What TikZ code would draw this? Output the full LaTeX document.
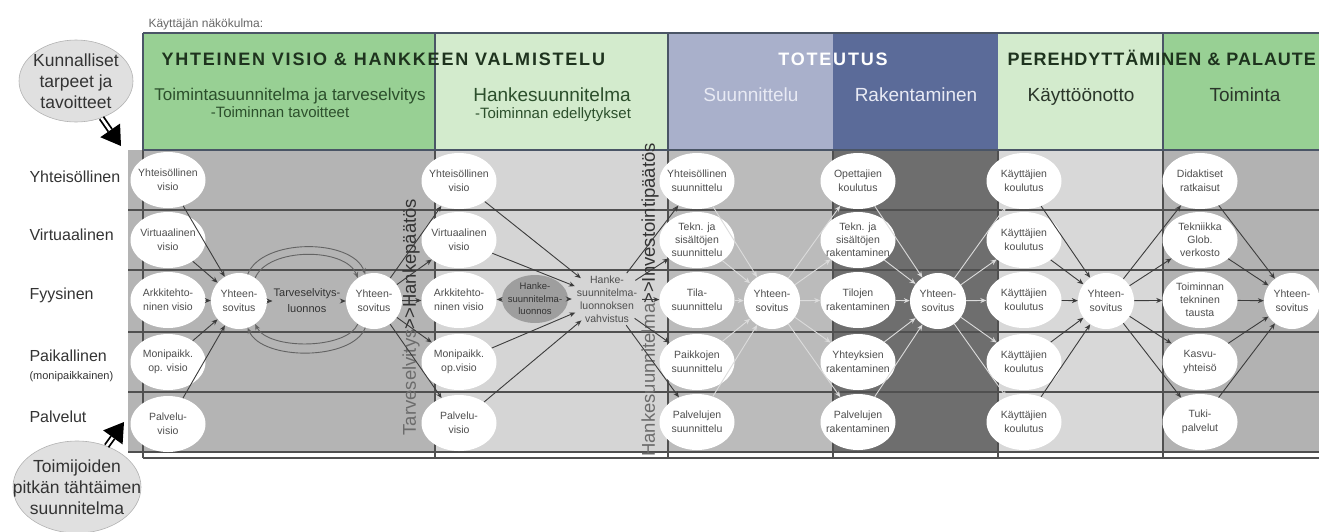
\documentclass[tikz,border=0pt]{standalone}
\usepackage{fontspec}
\setmainfont{Liberation Sans}
\newfontfamily\hdfont{Liberation Sans}[LetterSpace=10]
\newfontfamily\hdfontb{Liberation Sans}[LetterSpace=5.5]
\usetikzlibrary{shapes.geometric,arrows.meta,calc}
\definecolor{hgreen}{HTML}{98D094}
\definecolor{hlgreen}{HTML}{D3EBCD}
\definecolor{hlblue}{HTML}{A9B0CB}
\definecolor{hdblue}{HTML}{5B6B99}
\definecolor{bgA}{HTML}{B4B4B4}
\definecolor{bgB}{HTML}{D5D5D5}
\definecolor{bgC}{HTML}{BBBBBB}
\definecolor{bgD}{HTML}{6E6E6E}
\definecolor{bgE}{HTML}{D8D8D8}
\definecolor{bgF}{HTML}{B2B2B2}
\definecolor{rulec}{HTML}{505050}
\definecolor{hrulec}{HTML}{4A5566}
\definecolor{ntxt}{HTML}{4E4E4E}
\definecolor{arrc}{HTML}{3C3C3C}
\definecolor{lightarr}{HTML}{DCDCDC}
\definecolor{labc}{HTML}{333333}
\definecolor{htA}{HTML}{1E331E}
\definecolor{hsA}{HTML}{2C4F2C}
\definecolor{hsW}{HTML}{E8EAF4}
\definecolor{hsK}{HTML}{2A362A}
\definecolor{callc}{HTML}{E0E0E0}
\definecolor{hlc}{HTML}{9E9E9E}
\newcommand\mybub[5]{\node[#1] (#2) at (#3) {}; \node[#4] (#2t) at (#2.center) {#5};}
\begin{document}
\begin{tikzpicture}[x=1pt,y=-1pt,
  nd/.style={ellipse,fill=white,draw=none,minimum width=75pt,minimum height=56pt,inner sep=0pt},
  yh/.style={nd,minimum width=56pt},
  ndt/.style={align=center,text=ntxt,font=\fontsize{10.5}{14}\selectfont,inner sep=0pt},
  ndtt/.style={ndt,font=\fontsize{10.5}{13}\selectfont},
  arr/.style={draw=arrc,line width=0.9pt,-{Stealth[length=6pt,width=5pt]}},
  larr/.style={arr,draw=lightarr},
  loopc/.style={draw=arrc!80!white,line width=0.9pt,-{Stealth[length=6pt,width=5pt]}},
  lab/.style={anchor=base west,text=labc,font=\fontsize{16}{16}\selectfont},
  htitle/.style={anchor=base west,font=\hdfont\bfseries\fontsize{18}{18}\selectfont},
  hsub/.style={anchor=base,font=\fontsize{19}{19}\selectfont},
  hsubb/.style={anchor=base,font=\fontsize{15}{15}\selectfont},
  rl/.style={draw=rulec,line width=1.3pt},
  hrl/.style={draw=hrulec,line width=1.6pt},
  call/.style={ellipse,fill=callc,draw=gray!60,line width=0.6pt,inner sep=0pt},
  callt/.style={align=center,text=labc,font=\fontsize{17.5}{21}\selectfont,inner sep=0pt},
  vtxt/.style={rotate=90,inner sep=0pt,font=\fontsize{18.5}{18.5}\selectfont}
]
\useasboundingbox (0,0) rectangle (1319,531);
% header bands
\fill[hgreen] (143,33) rectangle (435,150);
\fill[hlgreen] (435,33) rectangle (668,150);
\fill[hlblue] (668,33) rectangle (833,150);
\fill[hdblue] (833,33) rectangle (998,150);
\fill[hlgreen] (998,33) rectangle (1163,150);
\fill[hgreen] (1163,33) rectangle (1319,150);
% body bands
\fill[bgA] (128,150) rectangle (435,452);
\fill[bgB] (435,150) rectangle (668,452);
\fill[bgC] (668,150) rectangle (833,452);
\fill[bgD] (833,150) rectangle (998,452);
\fill[bgE] (998,150) rectangle (1163,452);
\fill[bgF] (1163,150) rectangle (1319,452);
% rules
\foreach \yy in {210,270,332,392,452} \draw[rl] (128,\yy) -- (1319,\yy);
\draw[rl] (143,458) -- (1319,458);
\foreach \xx in {143,435,668,833,998,1163} \draw[rl] (\xx,150) -- (\xx,458);
\draw[hrl] (143,33) -- (1319,33);
\draw[hrl] (143,150) -- (1319,150);
\foreach \xx in {143,435,668,1163} \draw[hrl] (\xx,33) -- (\xx,150);
% header texts
\node[anchor=base west,text=gray!80!black,font=\fontsize{12}{12}\selectfont] (kn) at (145,27) {Käyttäjän näkökulma:};
\node[htitle,text=htA] (h1) at (158,65) {YHTEINEN VISIO \& HANKKEEN VALMISTELU};
\node[htitle,anchor=base,text=white] (h2) at (833,65) {TOTEUTUS};
\node[htitle,font=\hdfontb\bfseries\fontsize{18}{18}\selectfont,text=htA] (h3) at (1004,65) {PEREHDYTTÄMINEN \& PALAUTE};
\node[hsub,font=\fontsize{17}{17}\selectfont,text=hsA] (s1) at (290,100) {Toimintasuunnitelma ja tarveselvitys};
\node[hsubb,text=hsA] (s1b) at (280,117) {-Toiminnan tavoitteet};
\node[hsub,text=hsA] (s2) at (552,101) {Hankesuunnitelma};
\node[hsubb,text=hsA] (s2b) at (553,118) {-Toiminnan edellytykset};
\node[hsub,text=hsW] (s3) at (751,101) {Suunnittelu};
\node[hsub,text=hsW] (s4) at (916,101) {Rakentaminen};
\node[hsub,text=hsK] (s5) at (1081,101) {Käyttöönotto};
\node[hsub,text=hsK] (s6) at (1245,101) {Toiminta};
% row labels
\node[lab] (r1) at (26,182) {Yhteisöllinen};
\node[lab] (r2) at (26,240) {Virtuaalinen};
\node[lab] (r3) at (26,299) {Fyysinen};
\node[lab] (r4) at (26,361) {Paikallinen};
\node[lab,font=\fontsize{11}{11}\selectfont] (r4b) at (26,379) {(monipaikkainen)};
\node[lab] (r5) at (26,422) {Palvelut};
% vertical texts
\node[vtxt] (v1) at (411,317) {\textcolor{gray!85!black}{Tarveselvitys}\textcolor{labc}{{>}{>}Hankepäätös}};
\node[vtxt] (v2) at (650,300) {\textcolor{gray!85!black}{Hankesuunnitelma}\textcolor{labc}{{>}{>}Investointipäätös}};
% column 1
\mybub{nd}{a1}{168,180}{ndt}{Yhteisöllinen\\visio}
\mybub{nd}{a2}{168,240}{ndt}{Virtuaalinen\\visio}
\mybub{nd}{a3}{168,300}{ndt}{Arkkitehto-\\ninen visio}
\mybub{nd}{a4}{168,362}{ndt}{Monipaikk.\\op. visio}
\mybub{nd}{a5}{168,424}{ndt}{Palvelu-\\visio}
\mybub{yh}{Y1a}{239,301}{ndt}{Yhteen-\\sovitus}
\node[align=center,text=labc,font=\fontsize{11}{16}\selectfont,inner sep=1pt] (Tv) at (307,301) {Tarveselvitys-\\luonnos};
\mybub{yh}{Y1b}{374,301}{ndt}{Yhteen-\\sovitus}
% column 2
\mybub{nd}{b1}{459,181}{ndt}{Yhteisöllinen\\visio}
\mybub{nd}{b2}{459,240}{ndt}{Virtuaalinen\\visio}
\mybub{nd}{b3}{459,300}{ndt}{Arkkitehto-\\ninen visio}
\mybub{nd}{b4}{459,362}{ndt}{Monipaikk.\\op.visio}
\mybub{nd}{b5}{459,423}{ndt}{Palvelu-\\visio}
\mybub{ellipse,fill=hlc,inner sep=0pt,minimum width=66pt,minimum height=48pt}{HL}{535,299}{ndtt,text=labc,font=\fontsize{9.5}{12.5}\selectfont}{Hanke-\\suunnitelma-\\luonnos}
\mybub{ellipse,inner sep=0pt,minimum width=70pt,minimum height=62pt}{HV}{607,299}{ndtt}{Hanke-\\suunnitelma-\\luonnoksen\\vahvistus}
% column 3
\mybub{nd}{c1}{697,181}{ndt}{Yhteisöllinen\\suunnittelu}
\mybub{nd}{c2}{697,240}{ndtt}{Tekn. ja\\sisältöjen\\suunnittelu}
\mybub{nd}{c3}{697,300}{ndt}{Tila-\\suunnittelu}
\mybub{nd}{c4}{697,362}{ndt}{Paikkojen\\suunnittelu}
\mybub{nd}{c5}{697,422}{ndt}{Palvelujen\\suunnittelu}
\mybub{yh}{Y3}{772,301}{ndt}{Yhteen-\\sovitus}
% column 4
\mybub{nd}{d1}{858,181}{ndt}{Opettajien\\koulutus}
\mybub{nd}{d2}{858,240}{ndtt}{Tekn. ja\\sisältöjen\\rakentaminen}
\mybub{nd}{d3}{858,300}{ndt}{Tilojen\\rakentaminen}
\mybub{nd}{d4}{858,362}{ndt}{Yhteyksien\\rakentaminen}
\mybub{nd}{d5}{858,422}{ndt}{Palvelujen\\rakentaminen}
\mybub{yh}{Y4}{938,301}{ndt}{Yhteen-\\sovitus}
% column 5
\mybub{nd}{e1}{1024,181}{ndt}{Käyttäjien\\koulutus}
\mybub{nd}{e2}{1024,240}{ndt}{Käyttäjien\\koulutus}
\mybub{nd}{e3}{1024,300}{ndt}{Käyttäjien\\koulutus}
\mybub{nd}{e4}{1024,362}{ndt}{Käyttäjien\\koulutus}
\mybub{nd}{e5}{1024,422}{ndt}{Käyttäjien\\koulutus}
\mybub{yh}{Y5}{1106,301}{ndt}{Yhteen-\\sovitus}
% column 6
\mybub{nd}{f1}{1200,181}{ndt}{Didaktiset\\ratkaisut}
\mybub{nd}{f2}{1200,240}{ndtt}{Tekniikka\\Glob.\\verkosto}
\mybub{nd}{f3}{1200,300}{ndtt}{Toiminnan\\tekninen\\tausta}
\mybub{nd}{f4}{1200,362}{ndt}{Kasvu-\\yhteisö}
\mybub{nd}{f5}{1200,422}{ndt}{Tuki-\\palvelut}
\mybub{yh}{Y6}{1292,301}{ndt}{Yhteen-\\sovitus}
% connectors
\foreach \i in {1,...,5} \draw[arr] (a\i) -- (Y1a);
\draw[arr] (Y1a) -- (Tv);
\draw[arr] (Tv) -- (Y1b);
\draw[loopc] (Y1a.72) .. controls (262,238) and (352,238) .. (Y1b.108);
\draw[loopc] (Y1a.55) .. controls (268,247) and (346,247) .. (Y1b.125);
\draw[loopc] (Y1b.-108) .. controls (352,361) and (262,361) .. (Y1a.-72);
\draw[loopc] (Y1b.-125) .. controls (346,350) and (268,350) .. (Y1a.-55);
\foreach \i in {1,...,5} \draw[arr] (Y1b) -- (b\i);
\draw[arr] (HL) -- (b3);
\draw[arr] (HL) -- (HV);
\foreach \i in {1,2,4,5} \draw[arr] (b\i) -- (HV);
\foreach \i in {1,...,5} \draw[arr] (HV) -- (c\i);
\foreach \i in {1,...,5} \draw[larr] (c\i) -- (Y3);
\foreach \i in {1,...,5} \draw[larr] (Y3) -- (d\i);
\foreach \i in {1,...,5} \draw[larr] (d\i) -- (Y4);
\foreach \i in {1,...,5} \draw[larr] (Y4) -- (e\i);
\foreach \i in {1,...,5} \draw[arr] (e\i) -- (Y5);
\foreach \i in {1,...,5} \draw[arr] (Y5) -- (f\i);
\foreach \i in {1,...,5} \draw[arr] (f\i) -- (Y6);
% callouts
\mybub{call,minimum width=114pt,minimum height=82pt}{K}{76,81}{callt}{Kunnalliset\\tarpeet ja\\tavoitteet}
\mybub{call,minimum width=128pt,minimum height=92pt}{T}{77,487}{callt}{Toimijoiden\\pitkän tähtäimen\\suunnitelma}
\coordinate (k1) at (121,146);
\coordinate (k2) at (124,422);
\coordinate (k1b) at ($(k1)!19pt!(K.center)$);
\coordinate (k2b) at ($(k2)!19pt!(T.center)$);
\draw[black,line width=1.8pt,double=white,double distance=2.6pt] (K) -- (k1b);
\draw[black,line width=1.8pt,double=white,double distance=2.6pt] (T) -- (k2b);
\fill[black] (k1) -- ($(k1b)!12pt!90:(k1)$) -- ($(k1b)!12pt!-90:(k1)$) -- cycle;
\fill[black] (k2) -- ($(k2b)!12pt!90:(k2)$) -- ($(k2b)!12pt!-90:(k2)$) -- cycle;
\end{tikzpicture}
\end{document}
